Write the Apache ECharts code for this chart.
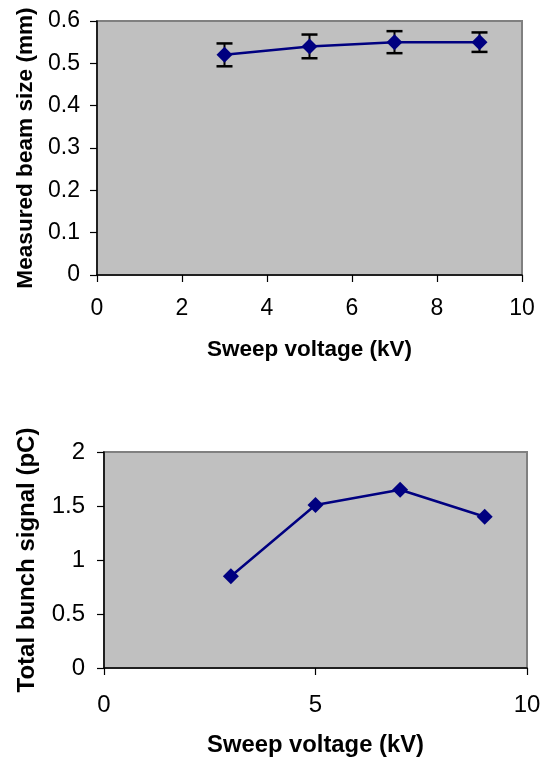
<!DOCTYPE html>
<html>
<head>
<meta charset="utf-8">
<script src="https://cdn.jsdelivr.net/npm/echarts@6/dist/echarts.min.js"></script>
<style>
html,body{margin:0;padding:0;background:#fff;}
#chart{width:542px;height:760px;}
</style>
</head>
<body>
<div id="chart"></div>
<script>
// Top chart data
const sweepTop = [3, 5, 7, 9];
const beamSize = [0.52, 0.54, 0.55, 0.55];
const beamErr = [0.027, 0.028, 0.026, 0.023];
const topYTicks = [0, 0.1, 0.2, 0.3, 0.4, 0.5, 0.6];
const topXTicks = [0, 2, 4, 6, 8, 10];

// Bottom chart data
const sweepBottom = [3, 5, 7, 9];
const bunchSignal = [0.85, 1.51, 1.65, 1.40];
const bottomYTicks = [0, 0.5, 1, 1.5, 2];
const bottomXTicks = [0, 5, 10];

const FONT = '"Liberation Sans", Arial, sans-serif';
const NAVY = '#000080';

const lineData = sweepTop.map((x, i) => [x, beamSize[i]]);
const errData = sweepTop.map((x, i) => [x, beamSize[i] - beamErr[i], beamSize[i] + beamErr[i]]);
const bottomData = sweepBottom.map((x, i) => [x, bunchSignal[i]]);

function axisBase() {
  return {
    axisLine: {show: true, onZero: false, lineStyle: {color: '#000', width: 1.5}},
    axisTick: {show: true, inside: false, length: 7, lineStyle: {color: '#000', width: 1.2}},
    splitLine: {show: false}
  };
}

const chart = echarts.init(document.getElementById('chart'), null, {renderer: 'canvas'});

const option = {
  animation: false,
  backgroundColor: '#fff',
  grid: [
    {left: 97, top: 21, right: 20, bottom: 485, containLabel: false, outerBoundsMode: 'none',
     show: true, backgroundColor: '#C0C0C0', borderColor: '#808080', borderWidth: 2},
    {left: 104, top: 452, right: 15, bottom: 92, containLabel: false, outerBoundsMode: 'none',
     show: true, backgroundColor: '#C0C0C0', borderColor: '#808080', borderWidth: 2}
  ],
  xAxis: [
    Object.assign(axisBase(), {
      gridIndex: 0, type: 'value', min: topXTicks[0], max: topXTicks[topXTicks.length - 1], interval: topXTicks[1] - topXTicks[0],
      name: 'Sweep voltage (kV)', nameLocation: 'middle', nameGap: 63,
      nameTextStyle: {color: '#000', fontFamily: FONT, fontWeight: 'bold', fontSize: 22.5},
      axisLabel: {color: '#000', fontFamily: FONT, fontSize: 23, margin: 22}
    }),
    Object.assign(axisBase(), {
      gridIndex: 1, type: 'value', min: bottomXTicks[0], max: bottomXTicks[bottomXTicks.length - 1], interval: bottomXTicks[1] - bottomXTicks[0],
      name: 'Sweep voltage (kV)', nameLocation: 'middle', nameGap: 65,
      nameTextStyle: {color: '#000', fontFamily: FONT, fontWeight: 'bold', fontSize: 23.8},
      axisLabel: {color: '#000', fontFamily: FONT, fontSize: 24, margin: 25}
    })
  ],
  yAxis: [
    Object.assign(axisBase(), {
      gridIndex: 0, type: 'value', min: topYTicks[0], max: topYTicks[topYTicks.length - 1], interval: 0.1,
      name: 'Measured beam size (mm)', nameLocation: 'middle', nameGap: 60,
      nameTextStyle: {color: '#000', fontFamily: FONT, fontWeight: 'bold', fontSize: 22.6},
      axisLabel: {color: '#000', fontFamily: FONT, fontSize: 23, margin: 17}
    }),
    Object.assign(axisBase(), {
      gridIndex: 1, type: 'value', min: bottomYTicks[0], max: bottomYTicks[bottomYTicks.length - 1], interval: 0.5,
      name: 'Total bunch signal (pC)', nameLocation: 'middle', nameGap: 65,
      nameTextStyle: {color: '#000', fontFamily: FONT, fontWeight: 'bold', fontSize: 24},
      axisLabel: {color: '#000', fontFamily: FONT, fontSize: 24, margin: 19}
    })
  ],
  series: [
    {
      type: 'custom',
      xAxisIndex: 0, yAxisIndex: 0,
      z: 1,
      data: errData,
      renderItem: function (params, api) {
        const x = api.value(0);
        const lo = api.coord([x, api.value(1)]);
        const hi = api.coord([x, api.value(2)]);
        const hw = 8;
        const style = {stroke: '#000', lineWidth: 2.5};
        return {
          type: 'group',
          children: [
            {type: 'line', shape: {x1: lo[0], y1: lo[1], x2: hi[0], y2: hi[1]}, style: {stroke: '#000', lineWidth: 2}},
            {type: 'line', shape: {x1: hi[0] - hw, y1: hi[1], x2: hi[0] + hw, y2: hi[1]}, style: style},
            {type: 'line', shape: {x1: lo[0] - hw, y1: lo[1], x2: lo[0] + hw, y2: lo[1]}, style: style}
          ]
        };
      }
    },
    {
      type: 'line',
      xAxisIndex: 0, yAxisIndex: 0,
      z: 3,
      data: lineData,
      symbol: 'diamond', symbolSize: [16, 16],
      lineStyle: {color: NAVY, width: 2.5},
      itemStyle: {color: NAVY}
    },
    {
      type: 'line',
      xAxisIndex: 1, yAxisIndex: 1,
      z: 3,
      data: bottomData,
      symbol: 'diamond', symbolSize: [16, 16],
      lineStyle: {color: NAVY, width: 2.5},
      itemStyle: {color: NAVY}
    }
  ]
};
chart.setOption(option);
</script>
</body>
</html>
